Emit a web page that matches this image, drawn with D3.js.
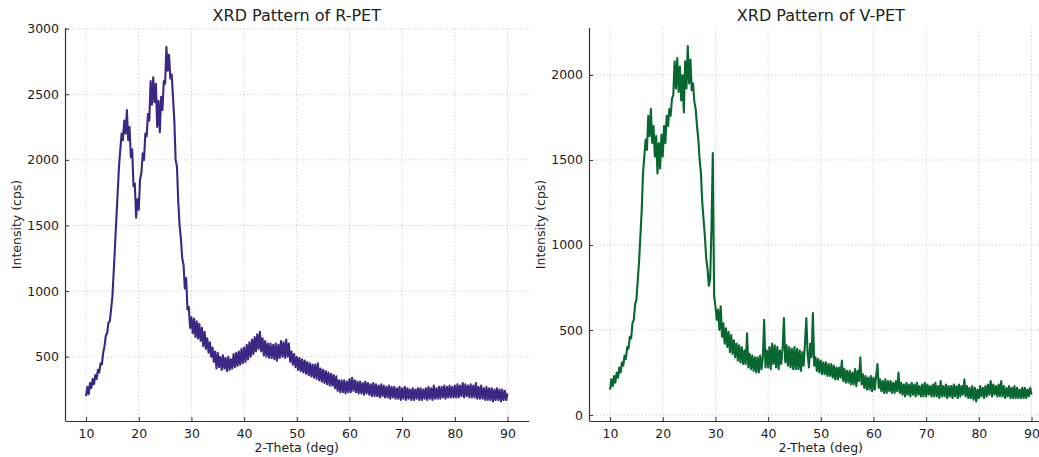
<!DOCTYPE html>
<html>
<head>
<meta charset="utf-8">
<script src="https://cdn.jsdelivr.net/npm/d3@7"></script>
<style>
  body { margin: 0; background: #fff; }
  svg { display: block; font-family: "DejaVu Sans", sans-serif; }
</style>
</head>
<body>
<div id="vis"></div>
<script>
//tick values shared by both panels
const xTicks = [10, 20, 30, 40, 50, 60, 70, 80, 90]
const rpetYTicks = [500, 1000, 1500, 2000, 2500, 3000]
const vpetYTicks = [0, 500, 1000, 1500, 2000]

//readings were taken every 0.25 deg from 10 to 90 (top and bottom of the noise in turn)
const twoTheta = d3.range(321).map(i => 10 + i * 0.25)

//R-PET intensity readings, one row per 5 deg
const rpetIntensity = [
  200, 270, 215, 300, 260, 330, 290, 360, 330, 400, 380, 450, 440, 530, 580, 660, 680, 760, 770, 860,
  960, 1150, 1350, 1550, 1750, 1950, 2080, 2200, 2150, 2300, 2200, 2380, 2150, 2250, 2020, 2080, 1800, 1820, 1560, 1700,
  1620, 1850, 1900, 2050, 2000, 2200, 2180, 2350, 2300, 2600, 2420, 2630, 2440, 2580, 2250, 2450, 2210, 2480, 2380, 2600,
  2580, 2860, 2680, 2800, 2620, 2650, 2480, 2300, 2000, 1950, 1680, 1500, 1400, 1250, 1200, 1020, 1100, 860, 880, 720,
  800, 680, 790, 650, 770, 640, 750, 620, 720, 580, 690, 560, 640, 530, 610, 500, 570, 460, 540, 410,
  530, 420, 500, 400, 510, 410, 490, 390, 500, 400, 480, 410, 520, 420, 530, 430, 540, 440, 560, 450,
  570, 460, 590, 480, 610, 500, 630, 520, 650, 540, 670, 560, 690, 540, 640, 510, 620, 500, 600, 490,
  600, 490, 590, 480, 600, 470, 590, 490, 620, 500, 610, 490, 630, 500, 600, 460, 540, 440, 520, 420,
  500, 400, 490, 390, 480, 380, 470, 370, 460, 360, 450, 350, 440, 340, 440, 330, 450, 320, 410, 310,
  400, 300, 390, 290, 380, 280, 370, 280, 360, 260, 350, 240, 320, 230, 320, 230, 320, 220, 310, 230,
  330, 230, 340, 240, 320, 230, 310, 220, 310, 220, 300, 210, 310, 220, 300, 210, 290, 200, 300, 200,
  290, 200, 280, 190, 290, 200, 280, 190, 270, 190, 280, 180, 270, 190, 270, 180, 260, 180, 270, 170,
  260, 180, 270, 170, 260, 180, 250, 170, 260, 170, 250, 180, 260, 170, 260, 170, 250, 180, 260, 170,
  270, 180, 260, 170, 280, 180, 260, 180, 270, 180, 270, 190, 280, 180, 270, 190, 280, 190, 270, 190,
  280, 190, 290, 190, 280, 200, 300, 190, 290, 200, 280, 190, 290, 190, 280, 190, 300, 180, 270, 180,
  280, 180, 260, 170, 270, 170, 260, 170, 260, 160, 250, 170, 260, 170, 250, 160, 250, 170, 240, 170,
  220
]

//V-PET intensity readings, one row per 5 deg
const vpetIntensity = [
  150, 210, 170, 230, 190, 250, 220, 280, 250, 310, 290, 350, 330, 400, 390, 460, 450, 540, 560, 650,
  680, 790, 900, 1050, 1200, 1420, 1520, 1620, 1560, 1760, 1640, 1800, 1600, 1700, 1520, 1640, 1420, 1600, 1450, 1650,
  1520, 1700, 1600, 1760, 1700, 1800, 1760, 1860, 1880, 2080, 1920, 2100, 1900, 2050, 1850, 2000, 1780, 2080, 1920, 2170,
  1950, 2090, 1910, 1950, 1840, 1800, 1700, 1620, 1500, 1420, 1250, 1150, 1050, 920, 860, 760, 800, 1100, 1540, 700,
  640, 560, 620, 500, 640, 460, 540, 420, 510, 400, 490, 370, 470, 360, 440, 340, 420, 320, 410, 310,
  400, 300, 380, 300, 480, 280, 360, 270, 350, 260, 340, 250, 340, 250, 350, 270, 340, 560, 280, 380,
  280, 400, 270, 420, 300, 410, 280, 400, 270, 380, 300, 390, 570, 310, 410, 290, 400, 280, 390, 270,
  400, 270, 390, 270, 380, 260, 370, 290, 420, 570, 360, 280, 420, 340, 600, 290, 340, 260, 330, 250,
  320, 240, 310, 240, 310, 230, 300, 230, 300, 220, 290, 210, 280, 210, 280, 220, 320, 200, 270, 190,
  260, 190, 260, 180, 250, 180, 270, 170, 260, 200, 340, 180, 240, 160, 230, 150, 220, 150, 230, 140,
  220, 150, 230, 300, 160, 210, 140, 200, 130, 210, 130, 200, 140, 200, 130, 190, 130, 200, 140, 250,
  130, 190, 120, 180, 110, 190, 120, 180, 110, 190, 120, 180, 110, 190, 120, 170, 110, 180, 110, 190,
  110, 180, 120, 170, 110, 180, 110, 190, 110, 170, 100, 200, 110, 170, 110, 180, 100, 170, 110, 170,
  100, 180, 110, 170, 100, 180, 110, 170, 120, 210, 110, 170, 100, 160, 100, 170, 90, 160, 80, 150,
  100, 170, 110, 160, 100, 170, 110, 180, 120, 200, 110, 180, 120, 170, 110, 180, 110, 200, 110, 170,
  100, 160, 110, 170, 100, 160, 100, 170, 100, 160, 100, 150, 100, 160, 100, 160, 100, 150, 110, 160,
  120
]

const width = 1039
const height = 457

const svg = d3.select("#vis")
  .append("svg")
  .attr("width", width)
  .attr("height", height)

//one panel = one axes box with title, grid, spines and the trace
function drawPanel(cfg) {
  const x = d3.scaleLinear().domain([6, 94]).range([cfg.left, cfg.left + 463.6])
  const y = d3.scaleLinear().domain(cfg.yDomain).range([421, 28])

  const g = svg.append("g")

  //dotted grid
  g.selectAll(".vgrid")
    .data(xTicks)
    .enter()
    .append("line")
    .attr("x1", d => x(d)).attr("x2", d => x(d))
    .attr("y1", 28).attr("y2", 421)
    .attr("stroke", "#c8c8c8").attr("stroke-width", 0.8)
    .attr("stroke-dasharray", "1.5,2")

  g.selectAll(".hgrid")
    .data(cfg.yTicks)
    .enter()
    .append("line")
    .attr("x1", x.range()[0]).attr("x2", x.range()[1])
    .attr("y1", d => y(d)).attr("y2", d => y(d))
    .attr("stroke", "#c8c8c8").attr("stroke-width", 0.8)
    .attr("stroke-dasharray", "1.5,2")

  //trace
  const line = d3.line()
    .x((d, i) => x(twoTheta[i]))
    .y(d => y(d))

  g.append("path")
    .datum(cfg.values)
    .attr("d", line)
    .attr("fill", "none")
    .attr("stroke", cfg.color)
    .attr("stroke-width", 2.1)
    .attr("stroke-linejoin", "round")

  //axes with inward ticks, only left and bottom spines
  const xAxis = d3.axisBottom(x)
    .tickValues(xTicks)
    .tickSizeInner(-4)
    .tickSizeOuter(0)
    .tickPadding(8)

  const yAxis = d3.axisLeft(y)
    .tickValues(cfg.yTicks)
    .tickFormat(d3.format("d"))
    .tickSizeInner(-4)
    .tickSizeOuter(0)
    .tickPadding(6)

  const gx = g.append("g")
    .attr("transform", "translate(0,421)")
    .call(xAxis)

  const gy = g.append("g")
    .attr("transform", `translate(${cfg.left},0)`)
    .call(yAxis)

  ;[gx, gy].forEach(a => {
    a.select(".domain").attr("stroke", "#333").attr("stroke-width", 1.2)
    a.selectAll(".tick line").attr("stroke", "#333").attr("stroke-width", 1)
    a.selectAll(".tick text")
      .attr("fill", "#222")
      .style("font-size", "12.5px")
      .style("font-family", "DejaVu Sans, sans-serif")
  })

  //y spine runs from the top of the axes down to the x axis
  gy.select(".domain").attr("d", `M0.5,28V421`)

  //title and axis labels
  const cx = (x.range()[0] + x.range()[1]) / 2
  g.append("text")
    .attr("x", cx).attr("y", 21)
    .attr("text-anchor", "middle")
    .attr("fill", "#222")
    .style("font-size", "16px")
    .text(cfg.title)

  g.append("text")
    .attr("x", cx).attr("y", 452)
    .attr("text-anchor", "middle")
    .attr("fill", "#222")
    .style("font-size", "12.5px")
    .text("2-Theta (deg)")

  g.append("text")
    .attr("transform", `translate(${cfg.yLabelX},224.5) rotate(-90)`)
    .attr("text-anchor", "middle")
    .attr("fill", "#222")
    .style("font-size", "12.5px")
    .text("Intensity (cps)")
}

drawPanel({
  left: 65,
  yDomain: [10, 3005],
  yTicks: rpetYTicks,
  values: rpetIntensity,
  color: "#3b2883",
  title: "XRD Pattern of R-PET",
  yLabelX: 21
})

drawPanel({
  left: 589,
  yDomain: [-35, 2276],
  yTicks: vpetYTicks,
  values: vpetIntensity,
  color: "#086630",
  title: "XRD Pattern of V-PET",
  yLabelX: 545
})
</script>
</body>
</html>
